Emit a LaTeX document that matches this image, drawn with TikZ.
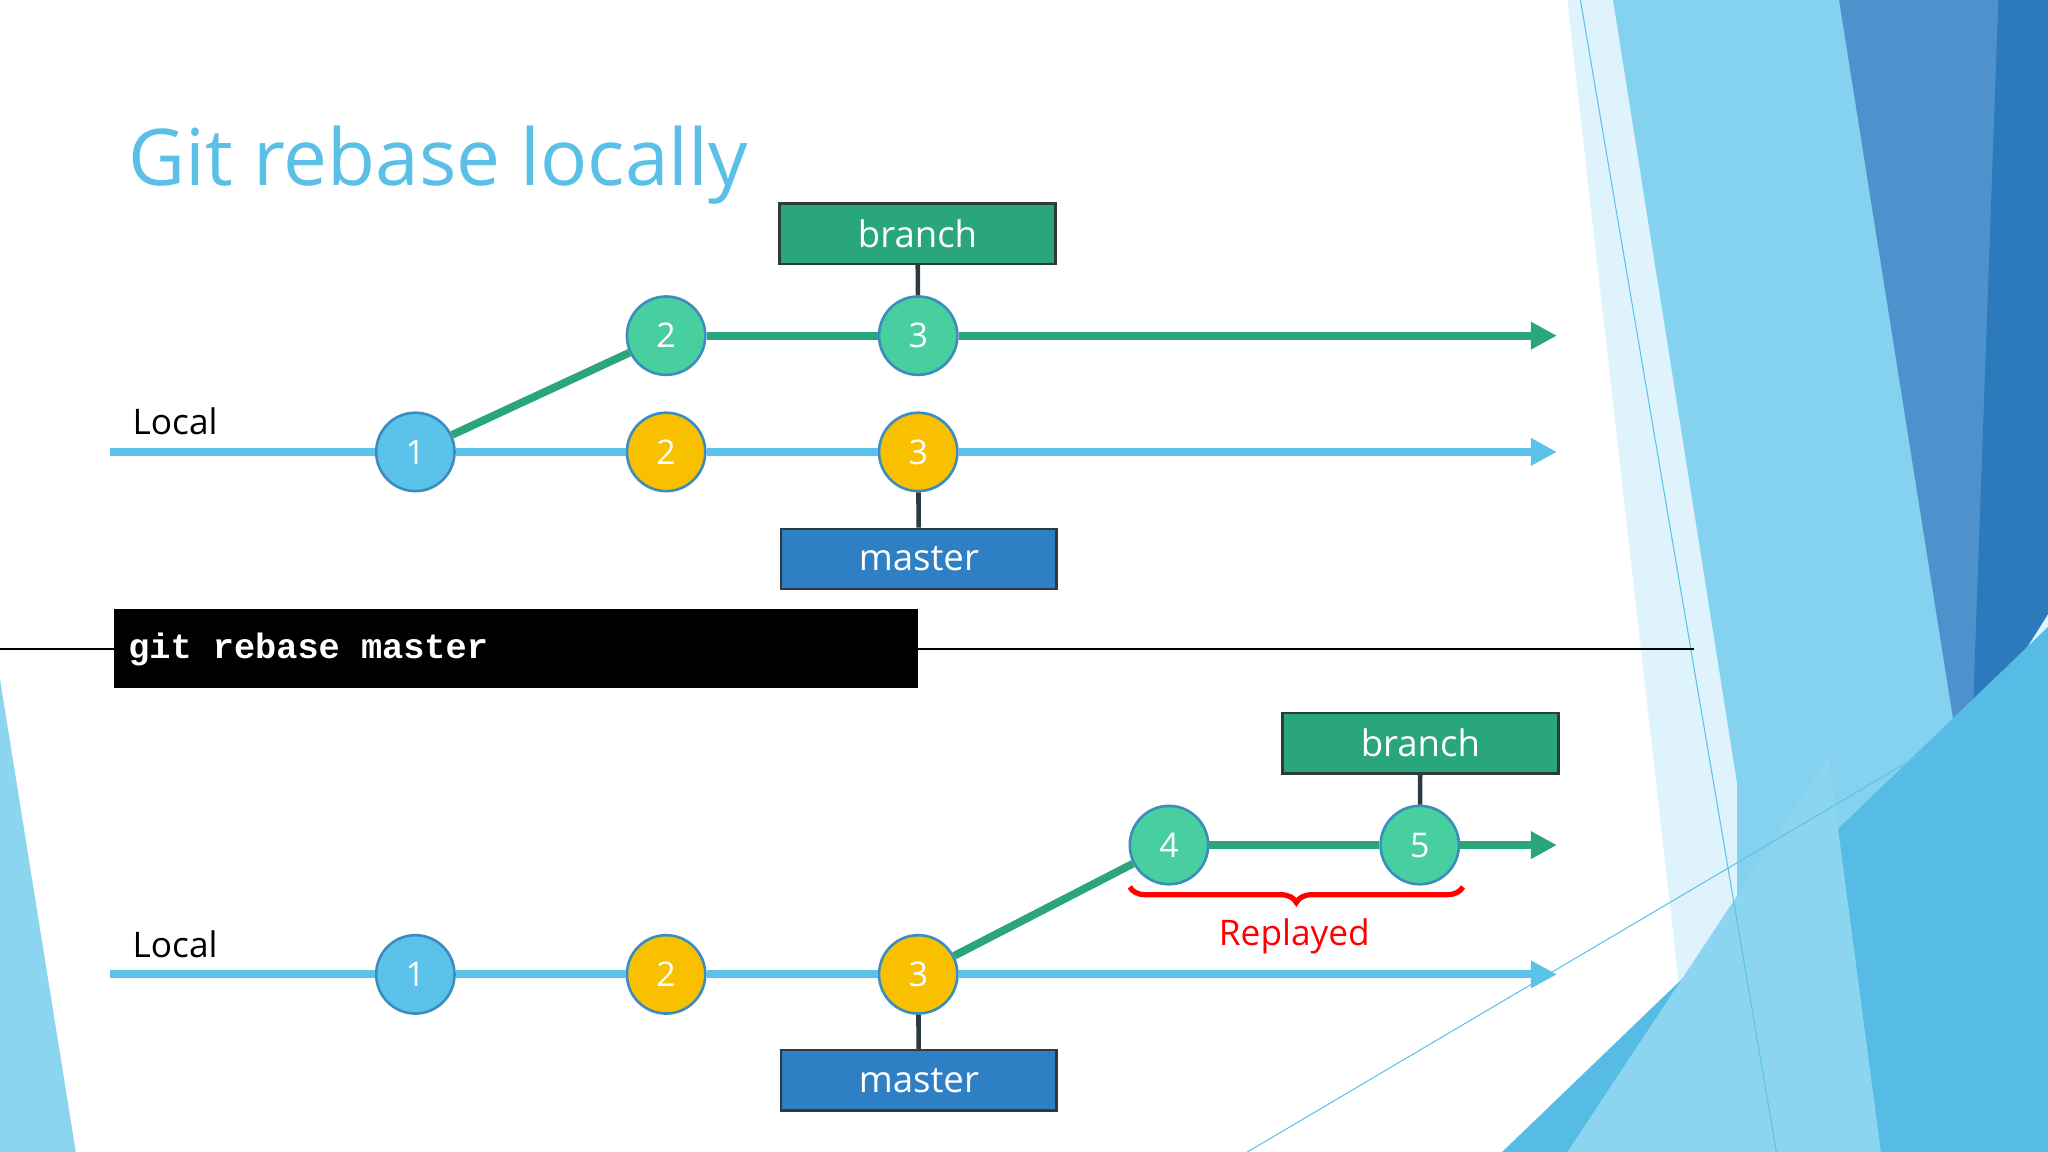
\documentclass[tikz,border=0pt]{standalone}
\usepackage{fontspec}
\setmainfont{Open Sans}
\newfontfamily\mono{Liberation Mono}
\usetikzlibrary{arrows.meta,decorations.pathreplacing}
\definecolor{gfill}{HTML}{48CFA0}
\definecolor{gline}{HTML}{2BA57A}
\definecolor{bline}{HTML}{5BC3EA}
\definecolor{yfill}{HTML}{F9C000}
\definecolor{cedge}{HTML}{3C8DBF}
\definecolor{boxg}{HTML}{29A67A}
\definecolor{boxb}{HTML}{2E7FC4}
\definecolor{dark}{HTML}{2D3A40}
\definecolor{title}{HTML}{5BC0E8}
\tikzset{
 c/.style={circle,minimum size=60pt,inner sep=0pt,draw=cedge,line width=2pt,text=white,font=\fontsize{26}{26}\selectfont},
 cb/.style={c,fill=bline},cy/.style={c,fill=yfill},cg/.style={c,fill=gfill},
 lab/.style={draw=dark,line width=2pt,minimum width=211pt,minimum height=46pt,text=white,inner sep=0pt,font=\fontsize{28}{28}\selectfont},
 gl/.style={gline,line width=6pt},bl/.style={bline,line width=6pt},
 tip/.style={-{Triangle[length=20pt,width=20pt]}},
 stem/.style={dark,line width=3.5pt},
 loc/.style={anchor=base west,font=\fontsize{27}{27}\selectfont}
}
\begin{document}
\begin{tikzpicture}[x=1pt,y=-1pt]
\useasboundingbox (0,0) rectangle (1568,882);
\fill[white] (0,0) rectangle (1568,882);
% background
\fill[white!80!bline] (1200,0) -- (1568,0) -- (1568,882) -- (1300,882) -- cycle;
\fill[bline!75] (1235,0) -- (1410,0) -- (1500,580) -- (1420,882) -- (1330,882) -- (1330,600) -- cycle;
\fill[boxb!85] (1408,0) -- (1568,0) -- (1568,470) -- (1500,580) -- cycle;
\fill[boxb!60!black!10!boxb] (1530,0) -- (1568,0) -- (1568,470) -- (1510,560) -- cycle;
\fill[bline!90!boxb] (1150,882) -- (1568,480) -- (1568,882) -- cycle;
\fill[bline!70] (1200,882) -- (1400,580) -- (1440,882) -- cycle;
\fill[bline!70] (0,520) -- (58,882) -- (0,882) -- cycle;
\draw[bline,line width=0.8pt] (1210,0) -- (1360,882);
\draw[bline,line width=0.8pt] (955,882) -- (1568,520);
% title
\node[anchor=base west,text=title,font=\fontsize{60}{60}\selectfont,inner sep=0pt] (t) at (98,142) {Git rebase locally};
% top
\node[loc] (l1) at (98,333) {Local};
\coordinate (s1) at (84,346); \coordinate (e1) at (1192,346); \coordinate (e2) at (1192,257);
\node[cb] (a1) at (318,346) {1};
\node[cy] (a2) at (510,346) {2};
\node[cy] (a3) at (703,346) {3};
\node[cg] (b2) at (510,257) {2};
\node[cg] (b3) at (703,257) {3};
\node[lab,fill=boxg] (br1) at (702.5,179) {branch};
\node[lab,fill=boxb] (ms1) at (703.5,428) {master};
\begin{scope}[on background layer/.try]\end{scope}
\draw[bl] (s1) -- (a1); \draw[bl] (a1) -- (a2); \draw[bl] (a2) -- (a3); \draw[bl,tip] (a3) -- (e1);
\draw[gl] (a1) -- (b2); \draw[gl] (b2) -- (b3); \draw[gl,tip] (b3) -- (e2);
\draw[stem] (br1) -- (b3); \draw[stem] (ms1) -- (a3);
% separator
\coordinate (h0) at (0,497); \coordinate (h1) at (1297,497);
\draw[black,line width=1.5pt] (h0) -- (h1);
\node[fill=black,minimum width=616pt,minimum height=61pt,inner sep=0pt] (cmd) at (395,496.5) {};
\node[anchor=west,text=white,font=\mono\bfseries\fontsize{27}{27}\selectfont,inner sep=0pt] (cmdt) at (98,497) {git rebase master};
% bottom
\node[loc] (l2) at (98,733) {Local};
\coordinate (s2) at (84,746); \coordinate (e3) at (1192,746); \coordinate (e4) at (1192,647);
\node[cb] (c1) at (318,746) {1};
\node[cy] (c2) at (510,746) {2};
\node[cy] (c3) at (703,746) {3};
\node[cg] (d4) at (895,647) {4};
\node[cg] (d5) at (1087,647) {5};
\node[lab,fill=boxg] (br2) at (1087.5,569) {branch};
\node[lab,fill=boxb] (ms2) at (703.5,827) {master};
\draw[bl] (s2) -- (c1); \draw[bl] (c1) -- (c2); \draw[bl] (c2) -- (c3); \draw[bl,tip] (c3) -- (e3);
\draw[gl] (c3) -- (d4); \draw[gl] (d4) -- (d5); \draw[gl,tip] (d5) -- (e4);
\draw[stem] (br2) -- (d5); \draw[stem] (ms2) -- (c3);
\coordinate (r0) at (865,679); \coordinate (r1) at (1120,679);
\draw[red,line width=4pt,decorate,decoration={brace,mirror,amplitude=12pt}] (r0) -- (r1);
\node[text=red,font=\fontsize{27}{27}\selectfont] (rp) at (991,717) {Replayed};
\end{tikzpicture}
\end{document}
